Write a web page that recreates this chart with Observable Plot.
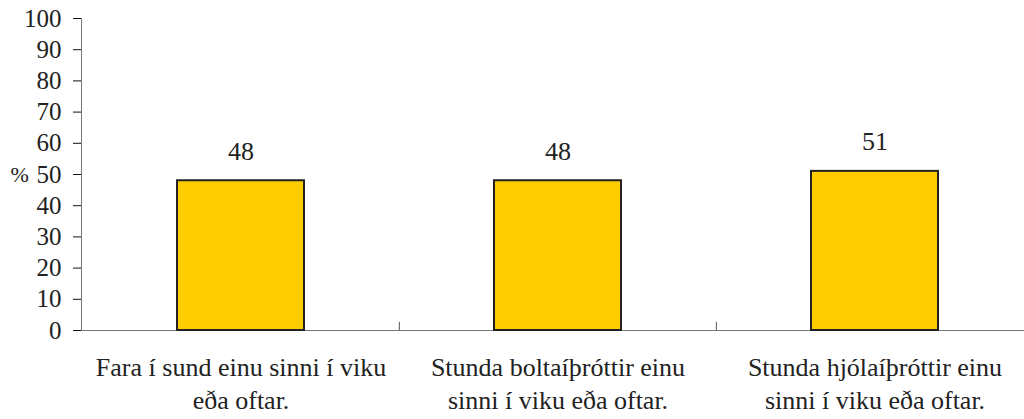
<!DOCTYPE html>
<html>
<head>
<meta charset="utf-8">
<script src="https://cdn.jsdelivr.net/npm/d3@7"></script>
<script src="https://cdn.jsdelivr.net/npm/@observablehq/plot@0.6"></script>
<style>
  html, body { margin: 0; padding: 0; background: white; }
</style>
</head>
<body>
<div id="chart"></div>
<script>
const categories = [
  "Fara í sund einu sinni í viku\neða oftar.",
  "Stunda boltaíþróttir einu\nsinni í viku eða oftar.",
  "Stunda hjólaíþróttir einu\nsinni í viku eða oftar."
];
const values = [48, 48, 51];
const yTicks = [0, 10, 20, 30, 40, 50, 60, 70, 80, 90, 100];
const yUnit = "%";

const data = categories.map((c, i) => ({category: c, value: values[i]}));

const W = 1024, H = 419, mL = 81, mR = -9;
const bw = (W - mL - mR) / categories.length;
const FONT = "Liberation Serif";

const chart = Plot.plot({
  width: W,
  height: H,
  marginTop: 18,
  marginBottom: 89,
  marginLeft: mL,
  marginRight: mR,
  style: {fontFamily: FONT, fontSize: "22px", color: "#222", background: "white"},
  x: {domain: categories, padding: 0, label: null},
  y: {domain: [0, 100], label: null},
  marks: [
    Plot.axisY({ticks: yTicks, tickSize: 8, tickPadding: 12, fontSize: 25, fontFamily: FONT, stroke: "#111", label: null}),
    Plot.axisX({tickSize: 0, tickPadding: 23, lineHeight: 1.24, fontSize: 26, fontFamily: FONT, label: null}),
    Plot.frame({anchor: "left", stroke: "#777"}),
    Plot.ruleY([0], {stroke: "#777"}),
    Plot.ruleX(categories.slice(1), {y1: 0, y2: 2.6, dx: -bw / 2, stroke: "#555"}),
    Plot.barY(data, {x: "category", y: "value", fill: "#FFCC00", stroke: "#222", strokeWidth: 2, insetLeft: 95, insetRight: 95}),
    Plot.text(data, {x: "category", y: "value", text: "value", dy: -21, lineAnchor: "bottom", fontSize: 26, fontFamily: FONT, fill: "#222"}),
    Plot.text([{y: 50}], {y: "y", text: () => yUnit, frameAnchor: "left", textAnchor: "start", dx: -71, fontSize: 22, fontFamily: FONT, fill: "#222"})
  ]
});
document.getElementById("chart").appendChild(chart);
</script>
</body>
</html>
